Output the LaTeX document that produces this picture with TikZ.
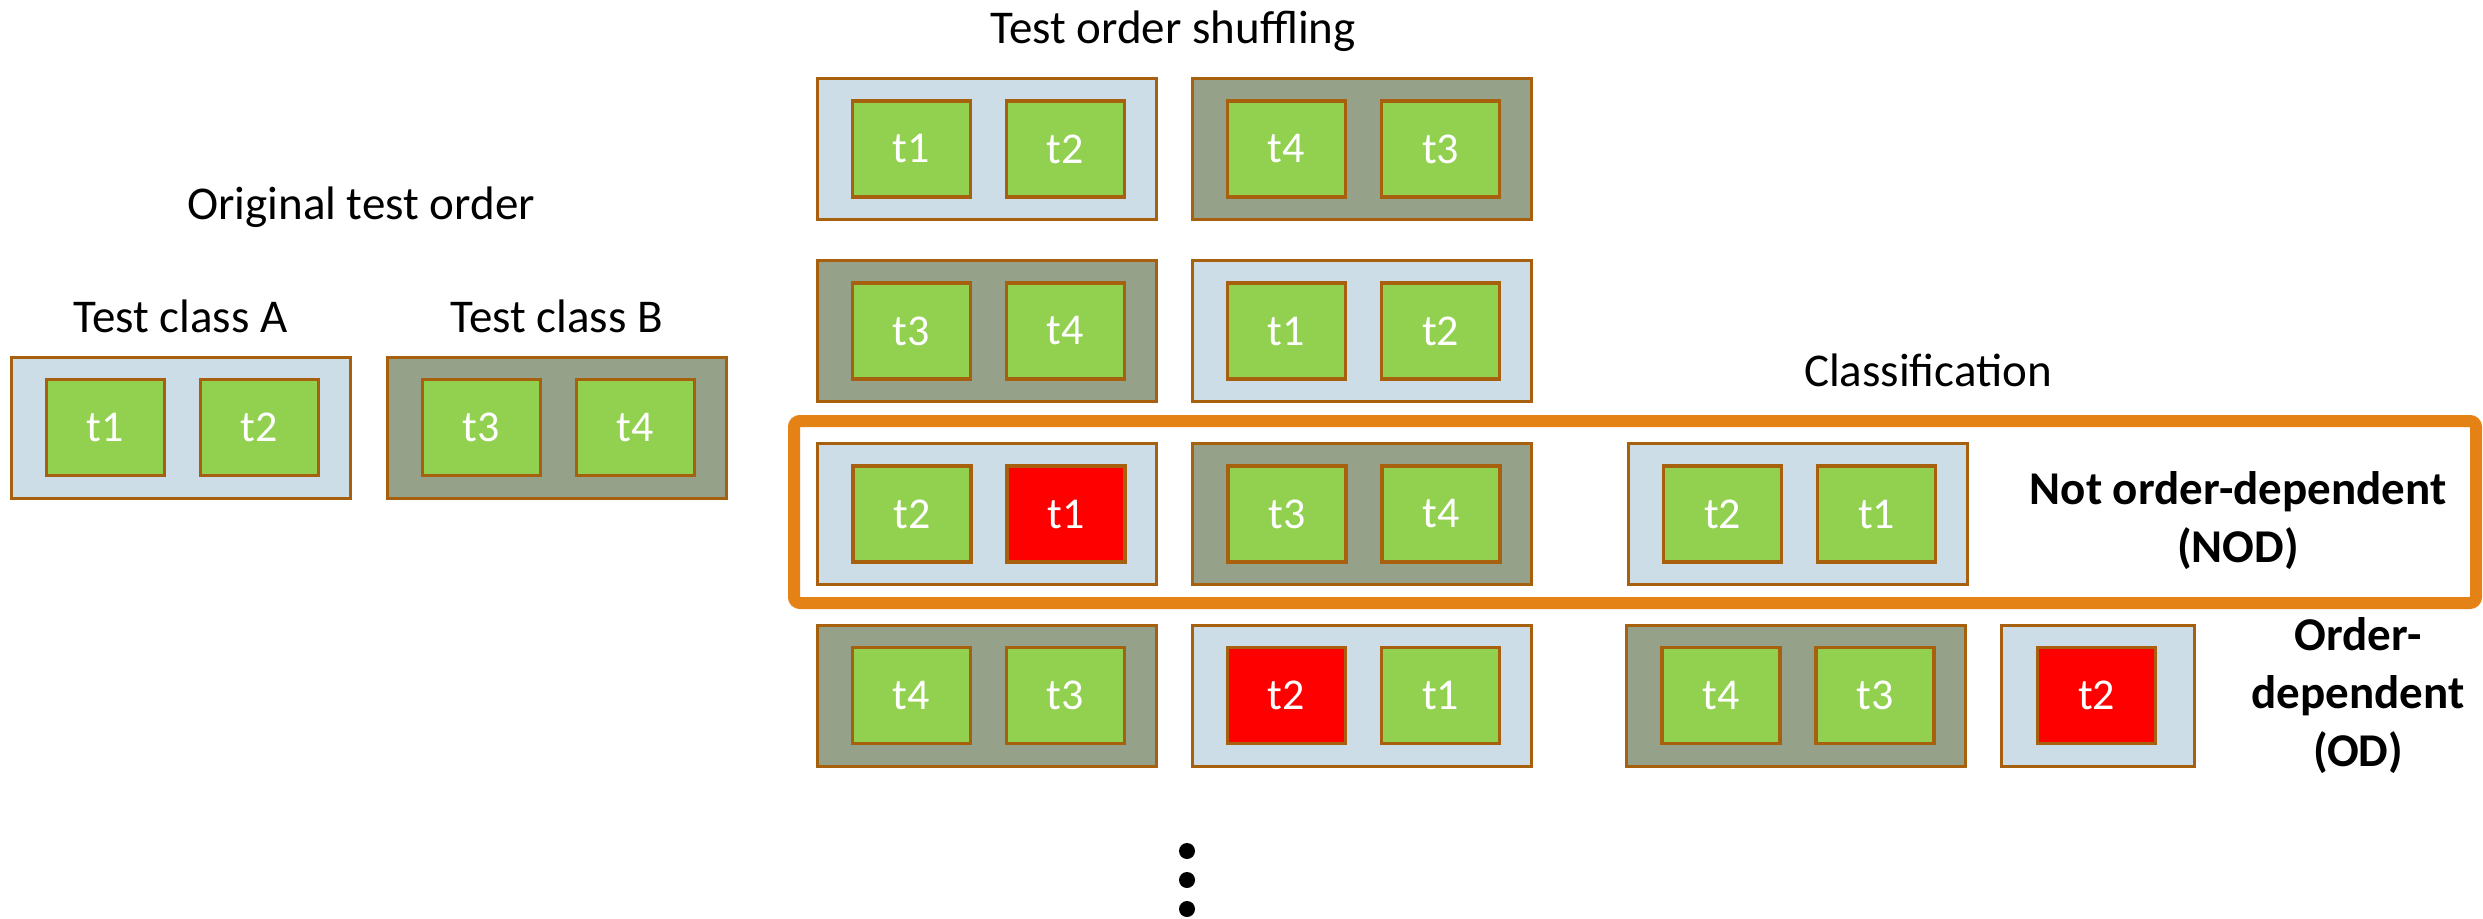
\documentclass[tikz,border=0pt]{standalone}
\usepackage{fontspec}
\setmainfont{Carlito}
\usetikzlibrary{calc}

\definecolor{lblue}{RGB}{204,221,232}
\definecolor{gbox}{RGB}{150,161,137}
\definecolor{tgreen}{RGB}{146,208,80}
\definecolor{brd}{RGB}{166,96,14}
\definecolor{ordr}{RGB}{229,130,21}

\newcommand\labfont{\fontsize{47}{58}\selectfont}
\newcommand\tstfont{\fontsize{44}{53}\selectfont}

\tikzset{
  classa/.style={draw=brd, line width=3pt, fill=lblue, minimum width=339pt,
    minimum height=141pt, inner sep=0pt},
  classb/.style={classa, fill=gbox},
  classsmall/.style={classa, minimum width=193pt},
  tcase/.style={draw=brd, line width=3.6pt, fill=tgreen, minimum width=118pt,
    minimum height=96pt, inner sep=0pt, text=white, font=\tstfont},
  tfail/.style={tcase, fill=red},
  lab/.style={anchor=base, inner sep=0pt, font=\labfont},
  blab/.style={lab, font=\labfont\bfseries},
}

\begin{document}
\begin{tikzpicture}[x=1pt, y=-1pt]
\useasboundingbox (0,0) rectangle (2483,918);

% headings
\node[lab] (hshuf) at (1173,43) {Test order shuffling};
\node[lab] (horig) at (361,219) {Original test order};
\node[lab] (hA) at (180.5,332) {Test class A};
\node[lab] (hB) at (556.5,332) {Test class B};
\node[lab] (hcls) at (1928,386) {Classification};

% original order
\node[classa] (oA) at (180.5,427.5) {};
\node[tcase] (oA1) at ($(oA)+(-75,0)$) {t1};
\node[tcase] (oA2) at ($(oA)+(79,0)$) {t2};
\node[classb] (oB) at (556.5,427.5) {};
\node[tcase] (oB1) at ($(oB)+(-75,0)$) {t3};
\node[tcase] (oB2) at ($(oB)+(79,0)$) {t4};

% shuffled run 1
\node[classa] (r1c1) at (986.5,149) {};
\node[tcase] (r1c1a) at ($(r1c1)+(-75,0)$) {t1};
\node[tcase] (r1c1b) at ($(r1c1)+(79,0)$) {t2};
\node[classb] (r1c2) at (1361.5,149) {};
\node[tcase] (r1c2a) at ($(r1c2)+(-75,0)$) {t4};
\node[tcase] (r1c2b) at ($(r1c2)+(79,0)$) {t3};

% shuffled run 2
\node[classb] (r2c1) at (986.5,331) {};
\node[tcase] (r2c1a) at ($(r2c1)+(-75,0)$) {t3};
\node[tcase] (r2c1b) at ($(r2c1)+(79,0)$) {t4};
\node[classa] (r2c2) at (1361.5,331) {};
\node[tcase] (r2c2a) at ($(r2c2)+(-75,0)$) {t1};
\node[tcase] (r2c2b) at ($(r2c2)+(79,0)$) {t2};

% shuffled run 3 : not order-dependent
\node[draw=ordr, line width=12pt, rounded corners=6pt, minimum width=1682pt,
  minimum height=182pt, inner sep=0pt] (nodframe) at (1635,512) {};
\node[classa] (r3c1) at (987,514) {};
\node[tcase] (r3c1a) at ($(r3c1)+(-75,0)$) {t2};
\node[tfail] (r3c1b) at ($(r3c1)+(79,0)$) {t1};
\node[classb] (r3c2) at (1362,514) {};
\node[tcase] (r3c2a) at ($(r3c2)+(-75,0)$) {t3};
\node[tcase] (r3c2b) at ($(r3c2)+(79,0)$) {t4};
\node[classa] (r3c3) at (1797.5,514) {};
\node[tcase] (r3c3a) at ($(r3c3)+(-75,0)$) {t2};
\node[tcase] (r3c3b) at ($(r3c3)+(79,0)$) {t1};
\node[blab] (nodlab) at (2238,504)
  {\begin{tabular}[t]{@{}c@{}}Not order-dependent\\(NOD)\end{tabular}};

% shuffled run 4 : order-dependent
\node[classb] (r4c1) at (986.5,695.5) {};
\node[tcase] (r4c1a) at ($(r4c1)+(-75,0)$) {t4};
\node[tcase] (r4c1b) at ($(r4c1)+(79,0)$) {t3};
\node[classa] (r4c2) at (1361.5,695.5) {};
\node[tfail] (r4c2a) at ($(r4c2)+(-75,0)$) {t2};
\node[tcase] (r4c2b) at ($(r4c2)+(79,0)$) {t1};
\node[classb] (r4c3) at (1796,695.5) {};
\node[tcase] (r4c3a) at ($(r4c3)+(-75,0)$) {t4};
\node[tcase] (r4c3b) at ($(r4c3)+(79,0)$) {t3};
\node[classsmall] (r4c4) at (2097.5,695.5) {};
\node[tfail] (r4c4a) at ($(r4c4)+(-1,0)$) {t2};
\node[blab] (odlab) at (2358,650)
  {\begin{tabular}[t]{@{}c@{}}Order-\\dependent\\(OD)\end{tabular}};

% continuation dots
\foreach \yy in {851,880,909}
  \fill (1187,\yy) circle[radius=8];
\end{tikzpicture}
\end{document}
